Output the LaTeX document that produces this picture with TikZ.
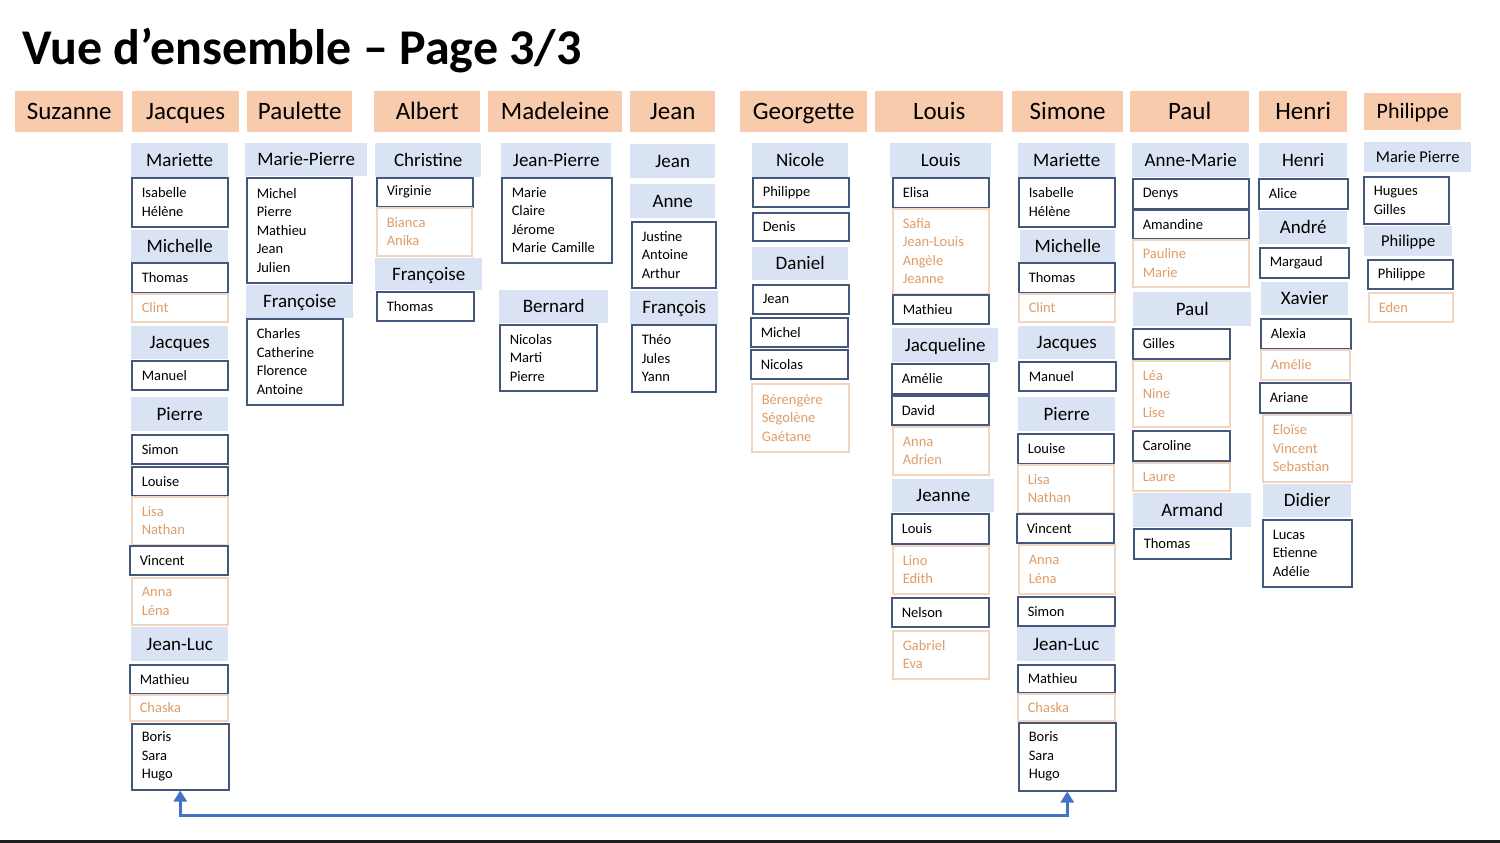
\documentclass[tikz,border=0pt]{standalone}
\usepackage{fontspec}
\setmainfont{Carlito}
\usepackage{tikz}
\usetikzlibrary{positioning, arrows.meta}
\definecolor{peach}{HTML}{F8CBAD}
\definecolor{bluetint}{HTML}{DAE3F3}
\definecolor{kidline}{HTML}{44577C}
\definecolor{peachline}{HTML}{F2D5BE}
\definecolor{peachtext}{HTML}{DF9D68}
\definecolor{linkblue}{HTML}{4472C4}
\tikzset{
  elder/.style 2 args={fill=peach, anchor=north west, inner sep=0pt, minimum width=#1, minimum height=#2, text height=21pt, text depth=5pt, font=\fontsize{25}{30}\selectfont},
  parent/.style 2 args={fill=bluetint, anchor=north west, inner sep=0pt, minimum width=#1, minimum height=#2, text height=16pt, text depth=4pt, font=\fontsize{19}{23}\selectfont},
  smallparent/.style 2 args={parent={#1}{#2}, text height=14pt, text depth=3.6pt, font=\fontsize{16.5}{20}\selectfont},
  kid/.style 2 args={draw=kidline, line width=1.5pt, fill=white, anchor=north west, inner xsep=10pt, inner ysep=0pt, text width=#1pt-20pt, minimum height=#2, align=left, font=\fontsize{14.5}{18.5}\selectfont},
  grandkid/.style 2 args={kid={#1}{#2}, draw=peachline, text=peachtext},
  link/.style={{Triangle[length=11pt, width=13pt]}-{Triangle[length=11pt, width=13pt]}, line width=3pt, draw=linkblue},
}
\begin{document}
\begin{tikzpicture}[x=1pt, y=-1pt]
  \useasboundingbox (0,0) rectangle (1500,843);
  \fill[white] (0,0) rectangle (1500,843);
  % title
  \node[font=\bfseries\fontsize{50}{60}\selectfont, anchor=base west, inner sep=0pt] (title) at (22,65) {Vue d’ensemble – Page 3/3};

  % top row
  \node[elder={108}{41}] (su) at (15,91) {Suzanne};
  \node[elder={107}{41}] (jq) at (132,91) {Jacques};
  \node[elder={105}{41}] (pa) at (247,91) {Paulette};
  \node[elder={106}{41}] (al) at (374,91) {Albert};
  \node[elder={134}{41}] (ma) at (488,91) {Madeleine};
  \node[elder={85}{41}] (je) at (630,91) {Jean};
  \node[elder={127}{41}] (ge) at (740,91) {Georgette};
  \node[elder={128}{41}] (lo) at (875,91) {Louis};
  \node[elder={111}{41}] (si) at (1012,91) {Simone};
  \node[elder={119}{41}] (pl) at (1130,91) {Paul};
  \node[elder={88}{41}] (he) at (1259,91) {Henri};
  \node[elder={97}{37}, font=\fontsize{22}{26}\selectfont, text height=18pt, text depth=4pt] (ph) at (1364,93) {Philippe};

  % Jacques
  \node[parent={97}{34}] (jq1) at (131,143) {Mariette};
  \node[kid={96}{49}] (jq2) at (131,177) {Isabelle\\Hélène};
  \node[parent={97}{32}] (jq3) at (131,230) {Michelle};
  \node[kid={96}{30}] (jq4) at (131,262) {Thomas};
  \node[grandkid={96}{28}] (jq5) at (131,293) {Clint};
  \node[parent={97}{33}] (jq6) at (131,326) {Jacques};
  \node[kid={96}{29}] (jq7) at (131,360) {Manuel};
  \node[parent={97}{34}] (jq8) at (131,397) {Pierre};
  \node[kid={96}{29}] (jq9) at (131,434) {Simon};
  \node[kid={96}{29}] (jq10) at (131,466) {Louise};
  \node[grandkid={96}{48}] (jq11) at (131,496) {Lisa\\Nathan};
  \node[kid={98}{29}] (jq12) at (129,545) {Vincent};
  \node[grandkid={96}{47}] (jq13) at (131,577) {Anna\\Léna};
  \node[parent={97}{34}] (jq14) at (131,627) {Jean-Luc};
  \node[kid={98}{29}] (jq15) at (129,664) {Mathieu};
  \node[grandkid={98}{26}] (jq16) at (129,694) {Chaska};
  \node[kid={97}{66}] (jqboris) at (131,723) {Boris\\Sara\\Hugo};

  % Paulette
  \node[parent={122}{33}] (pa1) at (245,143) {Marie-Pierre};
  \node[kid={105}{105}] (pa2) at (246,177) {Michel\\Pierre\\Mathieu\\Jean\\Julien};
  \node[parent={107}{33}] (pa3) at (246,285) {Françoise};
  \node[kid={96}{86}] (pa4) at (246,318) {Charles\\Catherine\\Florence\\Antoine};

  % Albert
  \node[parent={106}{34}] (al1) at (375,143) {Christine};
  \node[kid={96}{29}] (al2) at (376,177) {Virginie};
  \node[grandkid={95}{48}] (al3) at (376,207) {Bianca\\Anika};
  \node[parent={107}{32}] (al4) at (375,258) {Françoise};
  \node[kid={97}{29}] (al5) at (376,291) {Thomas};

  % Madeleine
  \node[parent={110}{34}] (ma1) at (501,143) {Jean-Pierre};
  \node[kid={110}{85}] (ma2) at (501,177) {Marie\\Claire\\Jérome\\Marie Camille};
  \node[parent={109}{33}] (ma3) at (499,290) {Bernard};
  \node[kid={97}{66}] (ma4) at (499,324) {Nicolas\\Marti\\Pierre};

  % Jean
  \node[parent={85}{34}] (je1) at (630,144) {Jean};
  \node[parent={85}{34}] (je2) at (630,184) {Anne};
  \node[kid={84}{66}] (je3) at (631,221) {Justine\\Antoine\\Arthur};
  \node[parent={88}{33}] (je4) at (630,291) {François};
  \node[kid={84}{67}] (je5) at (631,324) {Théo\\Jules\\Yann};

  % Georgette
  \node[parent={96}{34}] (ge1) at (752,143) {Nicole};
  \node[kid={96}{29}] (ge2) at (752,177) {Philippe};
  \node[kid={96}{28}] (ge3) at (752,212) {Denis};
  \node[parent={96}{33}] (ge4) at (752,247) {Daniel};
  \node[kid={96}{29}] (ge5) at (752,284) {Jean};
  \node[kid={97}{29}] (ge6) at (750,317) {Michel};
  \node[kid={97}{29}] (ge7) at (750,349) {Nicolas};
  \node[grandkid={97}{68}] (ge8) at (751,383) {Bérengère\\Ségolène\\Gaétane};

  % Louis
  \node[parent={101}{34}] (lo1) at (890,143) {Louis};
  \node[kid={96}{30}] (lo2) at (892,177) {Elisa};
  \node[grandkid={96}{85}] (lo3) at (892,208) {Safia\\Jean-Louis\\Angèle\\Jeanne};
  \node[kid={96}{29}] (lo4) at (892,294) {Mathieu};
  \node[parent={106}{34}] (lo5) at (892,328) {Jacqueline};
  \node[kid={97}{30}] (lo6) at (891,363) {Amélie};
  \node[kid={97}{29}] (lo7) at (891,395) {David};
  \node[grandkid={96}{48}] (lo8) at (892,426) {Anna\\Adrien};
  \node[parent={102}{33}] (lo9) at (892,479) {Jeanne};
  \node[kid={97}{30}] (lo10) at (891,513) {Louis};
  \node[grandkid={96}{48}] (lo11) at (892,545) {Lino\\Edith};
  \node[kid={97}{29}] (lo12) at (891,597) {Nelson};
  \node[grandkid={96}{48}] (lo13) at (892,630) {Gabriel\\Eva};

  % Simone
  \node[parent={97}{34}] (si1) at (1018,143) {Mariette};
  \node[kid={96}{49}] (si2) at (1018,177) {Isabelle\\Hélène};
  \node[parent={95}{32}] (si3) at (1020,230) {Michelle};
  \node[kid={96}{30}] (si4) at (1018,262) {Thomas};
  \node[grandkid={96}{28}] (si5) at (1018,293) {Clint};
  \node[parent={97}{33}] (si6) at (1018,326) {Jacques};
  \node[kid={97}{29}] (si7) at (1018,361) {Manuel};
  \node[parent={97}{34}] (si8) at (1018,397) {Pierre};
  \node[kid={96}{30}] (si9) at (1017,433) {Louise};
  \node[grandkid={96}{48}] (si10) at (1017,464) {Lisa\\Nathan};
  \node[kid={97}{29}] (si11) at (1016,513) {Vincent};
  \node[grandkid={96}{49}] (si12) at (1018,544) {Anna\\Léna};
  \node[kid={97}{29}] (si13) at (1017,596) {Simon};
  \node[parent={98}{34}] (si14) at (1017,627) {Jean-Luc};
  \node[kid={97}{28}] (si15) at (1017,664) {Mathieu};
  \node[grandkid={97}{27}] (si16) at (1017,693) {Chaska};
  \node[kid={97}{68}] (siboris) at (1018,722) {Boris\\Sara\\Hugo};

  % Paul
  \node[parent={117}{34}] (pl1) at (1132,143) {Anne-Marie};
  \node[kid={116}{30}] (pl2) at (1132,178) {Denys};
  \node[kid={116}{29}] (pl3) at (1132,209) {Amandine};
  \node[grandkid={116}{47}] (pl4) at (1132,239) {Pauline\\Marie};
  \node[parent={118}{34}] (pl5) at (1133,292) {Paul};
  \node[kid={97}{30}] (pl6) at (1132,328) {Gilles};
  \node[grandkid={97}{66}] (pl7) at (1132,360) {Léa\\Nine\\Lise};
  \node[kid={97}{30}] (pl8) at (1132,430) {Caroline};
  \node[grandkid={97}{28}] (pl9) at (1132,462) {Laure};
  \node[parent={118}{34}] (pl10) at (1133,493) {Armand};
  \node[kid={97}{30}] (pl11) at (1133,528) {Thomas};

  % Henri
  \node[parent={88}{34}] (he1) at (1259,143) {Henri};
  \node[kid={89}{30}] (he2) at (1258,178) {Alice};
  \node[parent={88}{33}] (he3) at (1259,211) {André};
  \node[kid={89}{30}] (he4) at (1259,247) {Margaud};
  \node[parent={87}{33}] (he5) at (1261,282) {Xavier};
  \node[kid={90}{30}] (he6) at (1260,318) {Alexia};
  \node[grandkid={89}{30}] (he7) at (1260,349) {Amélie};
  \node[kid={91}{30}] (he8) at (1259,382) {Ariane};
  \node[grandkid={89}{67}] (he9) at (1262,414) {Eloïse\\Vincent\\Sebastian};
  \node[parent={88}{33}] (he10) at (1263,484) {Didier};
  \node[kid={89}{67}] (he11) at (1262,519) {Lucas\\Etienne\\Adélie};

  % Philippe
  \node[smallparent={107}{30}] (ph1) at (1364,142) {Marie Pierre};
  \node[kid={85}{47}] (ph2) at (1363,176) {Hugues\\Gilles};
  \node[smallparent={88}{30}] (ph3) at (1364,226) {Philippe};
  \node[kid={85}{29}] (ph4) at (1367,259) {Philippe};
  \node[grandkid={84}{29}] (ph5) at (1368,292) {Eden};

  % link between the two Jean-Luc families
  \draw[link] (jqboris.south) -- ++(0,25) -| (siboris.south);

  \fill[black!88] (0,840) rectangle (1500,843);
\end{tikzpicture}
\end{document}
